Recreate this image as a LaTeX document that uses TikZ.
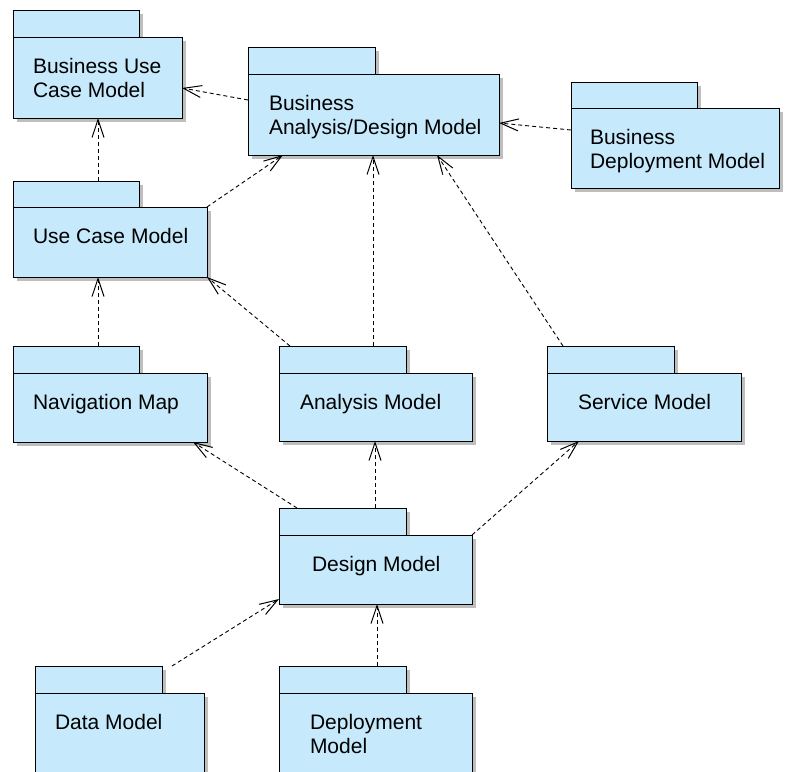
\documentclass[tikz,border=0pt]{standalone}
\usepackage{fontspec}
\setmainfont{Liberation Sans}
\usetikzlibrary{arrows.meta,shadows}
\definecolor{pkgblue}{RGB}{198,234,252}
\definecolor{shadowgray}{RGB}{190,190,190}
\begin{document}
\begin{tikzpicture}[x=1pt,y=-1pt,
  pkgshape/.style={draw=black, line width=1pt, fill=pkgblue, inner sep=0pt, outer sep=0pt,
    anchor=north west,
    drop shadow={shadow xshift=4pt, shadow yshift=-4pt, fill=shadowgray, opacity=1}},
  pkglabel/.style={anchor=north west, inner sep=0pt, outer sep=0pt, align=left,
    font=\fontsize{21}{24.5}\selectfont},
  dep/.style={line width=0.9pt, dash pattern=on 4pt off 3pt,
    -{Straight Barb[length=18pt,width=12pt,line width=1pt]}}
]
\useasboundingbox (0,0) rectangle (789,771);
\clip (0,0) rectangle (789,771);

% Business Use Case Model
\node[pkgshape, minimum width=126pt, minimum height=27pt] (buct) at (13,10) {};
\node[pkgshape, minimum width=169pt, minimum height=81pt] (buc) at (13,37) {};
\node[pkglabel] (buclabel) at (33,58) {Business Use\\Case Model};

% Business Analysis/Design Model
\node[pkgshape, minimum width=127pt, minimum height=27pt] (badt) at (248,47) {};
\node[pkgshape, minimum width=251pt, minimum height=81pt] (bad) at (248,74) {};
\node[pkglabel] (badlabel) at (269,95) {Business\\Analysis/Design Model};

% Business Deployment Model
\node[pkgshape, minimum width=126pt, minimum height=26pt] (bdmt) at (571,82) {};
\node[pkgshape, minimum width=208pt, minimum height=80pt] (bdm) at (571,108) {};
\node[pkglabel] (bdmlabel) at (590,129) {Business\\Deployment Model};

% Use Case Model
\node[pkgshape, minimum width=126pt, minimum height=26pt] (ucmt) at (13,181) {};
\node[pkgshape, minimum width=194pt, minimum height=70pt] (ucm) at (13,207) {};
\node[pkglabel] (ucmlabel) at (33,228) {Use Case Model};

% Navigation Map
\node[pkgshape, minimum width=126pt, minimum height=27pt] (nmt) at (13,346) {};
\node[pkgshape, minimum width=194pt, minimum height=69pt] (nm) at (13,373) {};
\node[pkglabel] (nmlabel) at (33,394) {Navigation Map};

% Analysis Model
\node[pkgshape, minimum width=127pt, minimum height=27pt] (amt) at (279,346) {};
\node[pkgshape, minimum width=193pt, minimum height=68pt] (am) at (279,373) {};
\node[pkglabel] (amlabel) at (300,394) {Analysis Model};

% Service Model
\node[pkgshape, minimum width=127pt, minimum height=27pt] (smt) at (547,346) {};
\node[pkgshape, minimum width=194pt, minimum height=68pt] (sm) at (547,373) {};
\node[pkglabel] (smlabel) at (578,394) {Service Model};

% Design Model
\node[pkgshape, minimum width=127pt, minimum height=27pt] (dmt) at (279,508) {};
\node[pkgshape, minimum width=193pt, minimum height=69pt] (dm) at (279,535) {};
\node[pkglabel] (dmlabel) at (312,556) {Design Model};

% Data Model
\node[pkgshape, minimum width=127pt, minimum height=27pt] (datat) at (35,666) {};
\node[pkgshape, minimum width=169pt, minimum height=100pt] (data) at (35,693) {};
\node[pkglabel] (datalabel) at (55,714) {Data Model};

% Deployment Model
\node[pkgshape, minimum width=127pt, minimum height=27pt] (dept) at (279,666) {};
\node[pkgshape, minimum width=193pt, minimum height=100pt] (dep) at (279,693) {};
\node[pkglabel] (deplabel) at (310,714) {Deployment\\Model};

% dependencies
\draw[dep] ([yshift=-26pt]bad.north west) -- ([yshift=-51pt]buc.north east);
\draw[dep] ([xshift=85pt]ucmt.north west) -- ([xshift=85pt]buc.south west);
\draw[dep] (ucm.north east) -- ([xshift=35pt]bad.south west);
\draw[dep] ([xshift=94pt]amt.north west) -- ([xshift=125pt]bad.south west);
\draw[dep] ([xshift=16pt]smt.north west) -- ([xshift=189pt]bad.south west);
\draw[dep] ([yshift=-22pt]bdm.north west) -- ([yshift=-49pt]bad.north east);
\draw[dep] ([xshift=85pt]nmt.north west) -- ([xshift=85pt]ucm.south west);
\draw[dep] ([xshift=11pt]amt.north west) -- (ucm.south east);
\draw[dep] ([xshift=18pt]dmt.north west) -- ([xshift=-14pt]nm.south east);
\draw[dep] ([xshift=96pt]dmt.north west) -- ([xshift=96pt]am.south west);
\draw[dep] (dm.north east) -- ([xshift=32pt]sm.south west);
\draw[dep] ([xshift=10pt]datat.north east) -- ([yshift=5pt]dm.south west);
\draw[dep] ([xshift=98pt]dept.north west) -- ([xshift=98pt]dm.south west);
\end{tikzpicture}
\end{document}
